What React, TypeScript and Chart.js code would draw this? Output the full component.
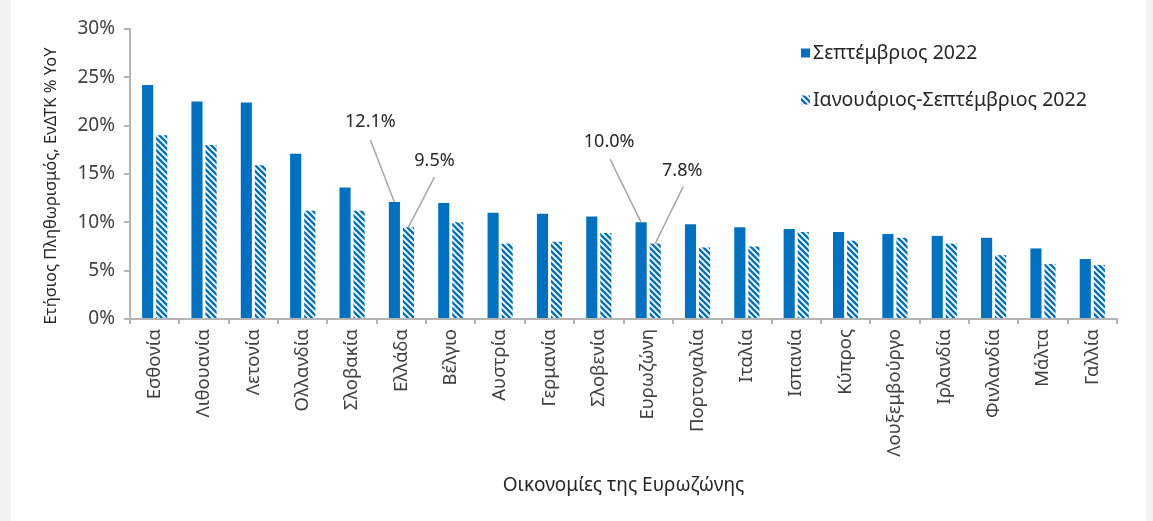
import React, { useEffect, useRef } from 'react';
import { Chart, registerables } from 'chart.js';

Chart.register(...registerables);

// ---------- data ----------
const categories = [
  'Εσθονία', 'Λιθουανία', 'Λετονία', 'Ολλανδία', 'Σλοβακία', 'Ελλάδα', 'Βέλγιο',
  'Αυστρία', 'Γερμανία', 'Σλοβενία', 'Ευρωζώνη', 'Πορτογαλία', 'Ιταλία', 'Ισπανία',
  'Κύπρος', 'Λουξεμβούργο', 'Ιρλανδία', 'Φινλανδία', 'Μάλτα', 'Γαλλία',
];
const septemberValues = [24.2, 22.5, 22.4, 17.1, 13.6, 12.1, 12.0, 11.0, 10.9, 10.6, 10.0, 9.8, 9.5, 9.3, 9.0, 8.8, 8.6, 8.4, 7.3, 6.2];
const janSepValues = [19.0, 18.0, 15.9, 11.2, 11.2, 9.5, 10.0, 7.8, 8.0, 8.9, 7.8, 7.4, 7.5, 9.0, 8.1, 8.4, 7.8, 6.6, 5.7, 5.6];
const seriesNames = ['Σεπτέμβριος 2022', 'Ιανουάριος-Σεπτέμβριος 2022'];
const yMin = 0;
const yMax = 30;
const yStep = 5;
const yTitle = 'Ετήσιος Πληθωρισμός, ΕνΔΤΚ % YoY';
const xTitle = 'Οικονομίες της Ευρωζώνης';
// callouts: category, series
const calloutCategories = ['Ελλάδα', 'Ελλάδα', 'Ευρωζώνη', 'Ευρωζώνη'];
const calloutSeries = [0, 1, 0, 1];

// ---------- styles ----------
const FONT = '"Noto Sans", sans-serif';
const BLUE = '#0070C0';
const AXIS = '#b4b4b4';
const TEXT = '#404040';
// offsets of callout labels from the bar top (text centre, line start)
const calloutOffsets = [
  { tx: -24, ty: -80, lx: -24, ly: -62 },
  { tx: 26, ty: -66, lx: 26, ly: -50 },
  { tx: -32, ty: -80, lx: -31, ly: -63 },
  { tx: 27, ty: -73, lx: 28, ly: -57 },
];

function makePattern(color: string) {
  const c = document.createElement('canvas');
  const s = 6;
  c.width = s; c.height = s;
  const g = c.getContext('2d')!;
  g.fillStyle = '#ffffff';
  g.fillRect(0, 0, s, s);
  g.strokeStyle = color;
  g.lineWidth = 2.4;
  g.beginPath();
  g.moveTo(-1, -1); g.lineTo(s + 1, s + 1);
  g.moveTo(-1, s - 1); g.lineTo(1, s + 1);
  g.moveTo(s - 1, -1); g.lineTo(s + 1, 1);
  g.stroke();
  return g.createPattern(c, 'repeat')!;
}

export default function App() {
  const ref = useRef<HTMLCanvasElement>(null);

  useEffect(() => {
    const canvas = ref.current!;
    const pattern = makePattern(BLUE);

    const overlay = {
      id: 'overlay',
      afterDatasetsDraw(chart: any) {
        const ctx = chart.ctx as CanvasRenderingContext2D;
        ctx.save();
        calloutCategories.forEach((cat, i) => {
          const idx = categories.indexOf(cat);
          const ds = calloutSeries[i];
          const el = chart.getDatasetMeta(ds).data[idx];
          const val = (chart.data.datasets[ds].data as number[])[idx];
          const o = calloutOffsets[i];
          ctx.strokeStyle = '#a6a6a6';
          ctx.lineWidth = 1.5;
          ctx.beginPath();
          ctx.moveTo(el.x + o.lx, el.y + o.ly);
          ctx.lineTo(el.x, el.y);
          ctx.stroke();
          ctx.fillStyle = '#262626';
          ctx.font = `18px ${FONT}`;
          ctx.textAlign = 'center';
          ctx.textBaseline = 'middle';
          ctx.fillText(`${val.toFixed(1)}%`, el.x + o.tx, el.y + o.ty);
        });
        ctx.restore();
      },
      afterDraw(chart: any) {
        const ctx = chart.ctx as CanvasRenderingContext2D;
        ctx.save();
        const ys = [53, 100];
        chart.data.datasets.forEach((d: any, i: number) => {
          ctx.fillStyle = d.backgroundColor;
          ctx.fillRect(801, ys[i] - 4.5, 9, 9);
          ctx.fillStyle = '#262626';
          ctx.font = `19.5px ${FONT}`;
          ctx.textAlign = 'left';
          ctx.textBaseline = 'middle';
          ctx.fillText(d.label, 813, ys[i]);
        });
        const ca = chart.chartArea;
        ctx.translate(51, (ca.top + ca.bottom) / 2 + 12);
        ctx.rotate(-Math.PI / 2);
        ctx.fillStyle = '#262626';
        ctx.font = `16.5px ${FONT}`;
        ctx.textAlign = 'center';
        ctx.textBaseline = 'middle';
        ctx.fillText(yTitle, 0, 0);
        ctx.restore();
      },
    };

    const chart = new Chart(canvas, {
      type: 'bar',
      data: {
        labels: categories,
        datasets: [
          {
            label: seriesNames[0],
            data: septemberValues,
            backgroundColor: BLUE,
            categoryPercentage: 0.57,
            barPercentage: 0.79,
          },
          {
            label: seriesNames[1],
            data: janSepValues,
            backgroundColor: pattern,
            categoryPercentage: 0.57,
            barPercentage: 0.79,
          },
        ],
      },
      options: {
        animation: false,
        responsive: false,
        devicePixelRatio: 1,
        layout: { padding: { left: 0, top: 29, right: 36, bottom: 0 } },
        plugins: {
          legend: { display: false },
          tooltip: { enabled: false },
          title: { display: false },
        },
        scales: {
          x: {
            grid: {
              display: true,
              drawOnChartArea: false,
              drawTicks: true,
              tickLength: 5,
              color: AXIS,
              lineWidth: 2,
              offset: true,
            },
            border: { display: true, color: AXIS, width: 2 },
            ticks: {
              minRotation: 90,
              maxRotation: 90,
              autoSkip: false,
              padding: 5,
              color: TEXT,
              font: { family: FONT, size: 18.5 },
            },
            title: {
              display: true,
              text: xTitle,
              color: '#262626',
              font: { family: FONT, size: 19 },
              padding: { top: 0, bottom: 24 },
            },
            afterFit: (s: any) => { s.height = 521 - 319; },
          },
          y: {
            min: yMin,
            max: yMax,
            grid: {
              display: true,
              drawOnChartArea: false,
              drawTicks: true,
              tickLength: 6,
              color: AXIS,
              lineWidth: 2,
            },
            border: { display: true, color: AXIS, width: 2 },
            ticks: {
              stepSize: yStep,
              padding: 9,
              color: TEXT,
              font: { family: FONT, size: 19 },
              callback: (v: any) => `${v}%`,
            },
            afterFit: (s: any) => { s.width = 130; },
          },
        },
      },
      plugins: [overlay],
    });
    return () => chart.destroy();
  }, []);

  return (
    <div style={{ position: 'absolute', left: 0, top: 0, width: 1153, height: 521, background: '#f2f2f2', overflow: 'hidden' }}>
      <div style={{ position: 'absolute', left: 11, top: 0, width: 1135, height: 521, background: '#ffffff' }} />
      <canvas ref={ref} width={1153} height={521} style={{ position: 'absolute', left: 0, top: 0, width: 1153, height: 521 }} />
    </div>
  );
}
